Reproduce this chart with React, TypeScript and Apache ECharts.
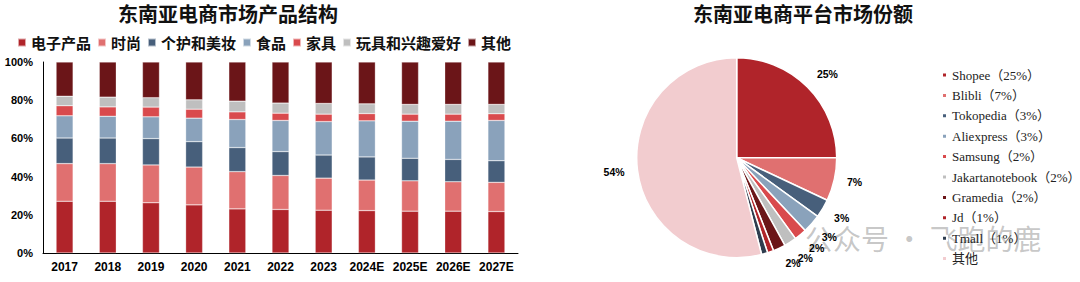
import React, { useEffect, useRef } from "react";
import * as echarts from "echarts";

const years = ["2017", "2018", "2019", "2020", "2021", "2022", "2023", "2024E", "2025E", "2026E", "2027E"];
const electronics = [27.1, 27.1, 26.3, 25.2, 23.1, 22.8, 22.4, 22.2, 21.9, 21.9, 21.7];
const fashion = [19.7, 19.7, 19.8, 19.8, 19.5, 17.8, 16.8, 16.0, 15.9, 15.4, 15.3];
const beauty = [13.4, 13.4, 13.8, 13.3, 12.6, 12.5, 12.1, 12.1, 11.8, 11.7, 11.3];
const food = [11.6, 11.4, 11.4, 12.3, 14.7, 16.3, 17.5, 18.9, 19.4, 20.0, 21.1];
const furniture = [5.3, 4.9, 5.1, 4.7, 4.0, 3.8, 3.9, 3.8, 3.7, 3.7, 3.5];
const toys = [5.0, 5.1, 4.9, 4.9, 5.6, 5.3, 5.6, 5.1, 5.1, 5.1, 4.9];
const others = [17.9, 18.4, 18.7, 19.8, 20.5, 21.5, 21.7, 21.9, 22.2, 22.2, 22.2];

const barNames = ["电子产品", "时尚", "个护和美妆", "食品", "家具", "玩具和兴趣爱好", "其他"];
const barColors = ["#B0242A", "#E07070", "#475F7B", "#8AA2BB", "#D94A4D", "#BFBFBF", "#6B1518"];

const platforms = ["Shopee", "Blibli", "Tokopedia", "Aliexpress", "Samsung", "Jakartanotebook", "Gramedia", "Jd", "Tmall", "其他 "];
const shares = [25, 7, 3, 3, 2, 2, 2, 1, 1, 54];
const pieColors = ["#B0242A", "#E07070", "#475F7B", "#8AA2BB", "#D94A4D", "#BFBFBF", "#6B1518", "#B0242A", "#2F3D4F", "#F2CCCF"];
const pieLegendLabels = ["Shopee（25%）", "Blibli（7%）", "Tokopedia（3%）", "Aliexpress（3%）", "Samsung（2%）", "Jakartanotebook（2%）", "Gramedia（2%）", "Jd（1%）", "Tmall（1%）", "其他"];

const barTitle = "东南亚电商市场产品结构";
const pieTitle = "东南亚电商平台市场份额";
const watermark = "公众号 · 飞跑的鹿";

export default function App() {
  const ref = useRef<HTMLDivElement>(null);
  useEffect(() => {
    document.body.style.margin = "0";
    const chart = echarts.init(ref.current!, null, { renderer: "svg" });
    const barSeriesData = [electronics, fashion, beauty, food, furniture, toys, others];
    const cjk = "'Noto Sans CJK SC', sans-serif";
    // small vertical nudges of the pie labels (style only)
    const labelNudge: Record<number, number> = { 0: -5, 2: 3, 3: 5, 4: 4, 5: 6, 6: 4 };
    const option: any = {
      animation: false,
      backgroundColor: "#ffffff",
      title: [
        {
          text: barTitle,
          left: 228,
          top: 2,
          padding: 0,
          textAlign: "center",
          textStyle: { fontFamily: cjk, fontSize: 20, lineHeight: 22, fontWeight: "bold", color: "#111" },
        },
        {
          text: pieTitle,
          left: 803,
          top: 2,
          padding: 0,
          textAlign: "center",
          textStyle: { fontFamily: cjk, fontSize: 20, lineHeight: 22, fontWeight: "bold", color: "#111" },
        },
      ],
      legend: [
        {
          data: barNames,
          left: 17,
          top: 35,
          padding: 0,
          icon: "rect",
          itemWidth: 8,
          itemHeight: 8,
          itemGap: 6,
          textStyle: { fontFamily: cjk, fontSize: 15, fontWeight: "bold", color: "#111" },
        },
        {
          data: platforms,
          orient: "vertical",
          left: 941,
          top: 68,
          padding: 0,
          icon: "rect",
          itemWidth: 5,
          itemHeight: 5,
          itemGap: 6.4,
          formatter: (name: string) => pieLegendLabels[platforms.indexOf(name)],
          textStyle: { fontFamily: "'Liberation Serif', 'Noto Sans CJK SC', serif", fontSize: 13, lineHeight: 14, color: "#222" },
        },
      ],
      grid: { left: 43, right: 562, top: 62, bottom: 29 },
      xAxis: {
        type: "category",
        data: years,
        axisLine: { lineStyle: { color: "#000", width: 1 } },
        axisTick: { show: false },
        axisLabel: { interval: 0, margin: 8, fontFamily: "'Liberation Sans', Arial, sans-serif", fontWeight: "bold", fontSize: 12, color: "#000" },
      },
      yAxis: {
        type: "value",
        min: 0,
        max: 100,
        interval: 20,
        axisLine: { show: true, lineStyle: { color: "#000", width: 1 } },
        axisTick: { show: false },
        splitLine: { show: false },
        axisLabel: { margin: 10, formatter: "{value}%", fontFamily: "'Liberation Sans', Arial, sans-serif", fontWeight: "bold", fontSize: 11, color: "#000" },
      },
      series: [
        ...barNames.map((name, i) => ({
          name,
          type: "bar",
          stack: "total",
          barWidth: 17,
          data: barSeriesData[i],
          itemStyle: { color: barColors[i], borderColor: "rgba(255,255,255,0.6)", borderWidth: 0.5 },
        })),
        {
          name: "平台",
          type: "pie",
          center: [736.7, 157.7],
          radius: 100,
          startAngle: 90,
          clockwise: true,
          avoidLabelOverlap: false,
          itemStyle: { borderColor: "#fff", borderWidth: 1.5 },
          label: {
            show: true,
            position: "outside",
            formatter: (p: any) => p.value + "%",
            fontFamily: "'Liberation Sans', Arial, sans-serif",
            fontWeight: "bold",
            fontSize: 10.5,
            color: "#000",
            distanceToLabelLine: 1,
          },
          labelLine: { show: false, length: 12, length2: 0 },
          labelLayout: (p: any) => ({ hideOverlap: false, dy: labelNudge[p.dataIndex] || 0 }),
          emphasis: { disabled: true },
          data: platforms.map((name, i) => ({
            name,
            value: shares[i],
            itemStyle: { color: pieColors[i] },
            label: shares[i] < 2 ? { show: false } : undefined,
          })),
        },
      ],
      graphic: [
        {
          type: "circle",
          shape: { cx: 770, cy: 236, r: 14 },
          style: { fill: "rgba(110,110,110,0.3)" },
          silent: true,
        },
        {
          type: "text",
          x: 805,
          y: 238,
          silent: true,
          style: {
            text: watermark,
            fontFamily: cjk,
            fontSize: 28,
            fill: "rgba(110,110,110,0.4)",
            verticalAlign: "middle",
          },
        },
      ],
    };
    chart.setOption(option);
    return () => chart.dispose();
  }, []);
  return <div ref={ref} style={{ width: 1080, height: 282, position: "absolute", left: 0, top: 0 }} />;
}
